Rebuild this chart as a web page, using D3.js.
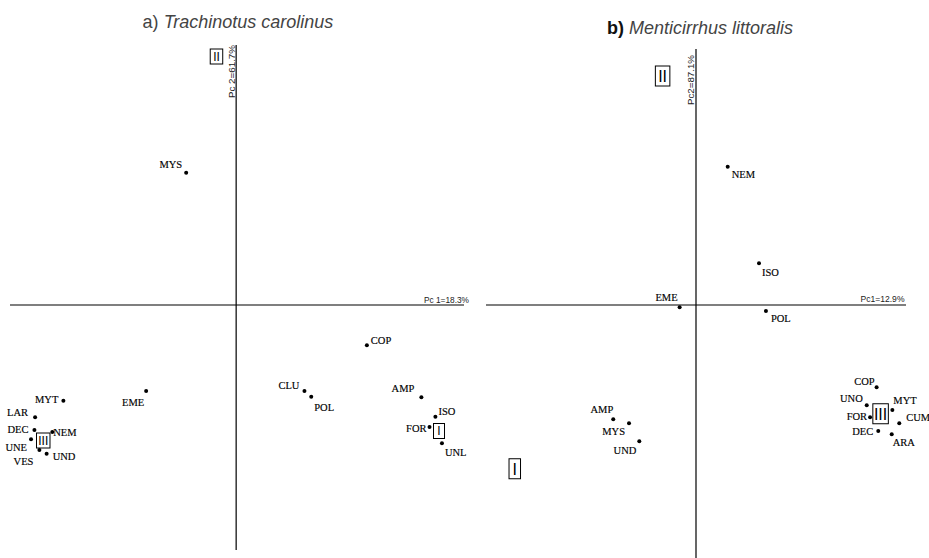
<!DOCTYPE html>
<html>
<head>
<meta charset="utf-8">
<script src="https://cdn.jsdelivr.net/npm/d3@7"></script>
<style>
  body { margin: 0; background: #fff; }
  svg { display: block; }
  text.lbl { font-family: "Liberation Serif", "DejaVu Serif", serif; font-size: 10.5px; fill: #000; stroke: #000; stroke-width: 0.15px; }
  .axlbl { font-family: "Liberation Sans", Arial, sans-serif; font-size: 9px; fill: #222; }
  .grp text { font-family: "Liberation Sans", Arial, sans-serif; fill: #000; }
  .title { font-family: "Liberation Sans", Arial, sans-serif; font-size: 18px; fill: #444; }
</style>
</head>
<body>
<svg id="chart" width="929" height="558"></svg>
<script>
// a) Trachinotus carolinus
const itemsA = ["MYS", "EME", "MYT", "LAR", "DEC", "NEM", "UNE", "VES", "UND",
                "COP", "CLU", "POL", "AMP", "ISO", "FOR", "UNL"];
const pc1A = [-0.221, -0.398, -0.764, -0.889, -0.892, -0.813, -0.907, -0.870, -0.838,
              0.578, 0.302, 0.332, 0.819, 0.881, 0.855, 0.910];
const pc2A = [0.529, -0.344, -0.383, -0.449, -0.500, -0.508, -0.537, -0.580, -0.595,
              -0.161, -0.344, -0.367, -0.369, -0.447, -0.488, -0.553];
const groupsA = ["II", "III", "I"];
const groupPc1A = [-0.087, -0.853, 0.897];
const groupPc2A = [0.994, -0.542, -0.504];

// b) Menticirrhus littoralis
const itemsB = ["NEM", "ISO", "EME", "POL", "AMP", "MYS", "UND",
                "COP", "UNO", "FOR", "MYT", "CUM", "DEC", "ARA"];
const pc1B = [0.151, 0.300, -0.078, 0.333, -0.394, -0.319, -0.270,
              0.860, 0.813, 0.829, 0.935, 0.968, 0.868, 0.932];
const pc2B = [0.553, 0.167, -0.009, -0.024, -0.457, -0.473, -0.545,
              -0.329, -0.401, -0.449, -0.420, -0.473, -0.504, -0.517];
const groupsB = ["II", "I", "III"];
const groupPc1B = [-0.159, -0.863, 0.879];
const groupPc2B = [0.916, -0.655, -0.435];

// label placement: [dx, dy, anchor]
const placeA = {
  MYS: [-4, -5, "end"], EME: [-2, 15, "end"], MYT: [-5, 2, "end"], LAR: [-7, -1, "end"],
  DEC: [-6, 3, "end"], NEM: [1, 4, "start"], UNE: [-4, 12, "end"], VES: [-6, 15, "end"],
  UND: [6, 6, "start"], COP: [4, -1, "start"], CLU: [-5, -2, "end"], POL: [3, 14, "start"],
  AMP: [-7, -5, "end"], ISO: [3, -2, "start"], FOR: [-3, 5, "end"], UNL: [3, 13, "start"]
};
const placeB = {
  NEM: [4, 11, "start"], ISO: [3, 13, "start"], EME: [-2, -6, "end"], POL: [5, 11, "start"],
  AMP: [0, -6, "end"], MYS: [-4, 12, "end"], UND: [-3, 13, "end"], COP: [-2, -2, "end"],
  UNO: [-4, -3, "end"], FOR: [-3, 3, "end"], MYT: [1, -6, "start"], CUM: [7, -2, "start"],
  DEC: [-5, 4, "end"], ARA: [1, 12, "start"]
};

const svg = d3.select("#chart");

function panel(cfg) {
  const x = d3.scaleLinear().domain(cfg.xDomain).range(cfg.xRange);
  const y = d3.scaleLinear().domain(cfg.yDomain).range(cfg.yRange);
  const g = svg.append("g");

  // axes through the origin
  g.append("line")
    .attr("x1", x.range()[0]).attr("x2", x.range()[1])
    .attr("y1", y(0)).attr("y2", y(0))
    .attr("stroke", "#000").attr("stroke-width", 1.2);
  g.append("line")
    .attr("x1", x(0)).attr("x2", x(0))
    .attr("y1", y.range()[0]).attr("y2", y.range()[1])
    .attr("stroke", "#000").attr("stroke-width", 1.2);

  g.append("text").attr("class", "axlbl")
    .attr("x", x.range()[1] + cfg.pc1Off[0]).attr("y", y(0) + cfg.pc1Off[1])
    .attr("text-anchor", "end")
    .attr("textLength", cfg.pc1Len).attr("lengthAdjust", "spacingAndGlyphs")
    .text(cfg.pc1Label);
  g.append("text").attr("class", "axlbl")
    .attr("transform", `translate(${x(0) + cfg.pc2Off[0]},${y.range()[1] + cfg.pc2Off[1]}) rotate(-90)`)
    .attr("text-anchor", "end")
    .attr("textLength", cfg.pc2Len).attr("lengthAdjust", "spacingAndGlyphs")
    .text(cfg.pc2Label);

  const pts = cfg.items.map((name, i) => ({ name, px: cfg.pc1[i], py: cfg.pc2[i] }));
  g.selectAll("circle.pt").data(pts).join("circle").attr("class", "pt")
    .attr("cx", d => x(d.px)).attr("cy", d => y(d.py)).attr("r", 2).attr("fill", "#000");
  g.selectAll("text.lbl").data(pts).join("text").attr("class", "lbl")
    .attr("font-family", "Liberation Serif")
    .attr("x", d => x(d.px) + cfg.place[d.name][0])
    .attr("y", d => y(d.py) + cfg.place[d.name][1])
    .attr("text-anchor", d => cfg.place[d.name][2])
    .text(d => d.name);

  const grps = cfg.groups.map((name, i) => ({ name, px: cfg.gPc1[i], py: cfg.gPc2[i] }));
  const gg = g.selectAll("g.grp").data(grps).join("g").attr("class", "grp")
    .attr("transform", d => `translate(${x(d.px)},${y(d.py)})`);
  gg.append("rect")
    .attr("x", d => -cfg.boxW[d.name.length - 1] / 2).attr("y", -cfg.boxH / 2)
    .attr("width", d => cfg.boxW[d.name.length - 1]).attr("height", cfg.boxH)
    .attr("fill", "#fff").attr("stroke", "#000").attr("stroke-width", 1);
  gg.append("text")
    .attr("text-anchor", "middle").attr("dy", "0.36em")
    .attr("font-size", cfg.boxFont)
    .text(d => d.name);
}

panel({
  items: itemsA, pc1: pc1A, pc2: pc2A, place: placeA,
  groups: groupsA, gPc1: groupPc1A, gPc2: groupPc2A,
  xDomain: [-1, 1.0075], xRange: [10, 464],
  yDomain: [-0.98, 1.04], yRange: [550, 45],
  pc1Label: "Pc 1=18.3%", pc1Off: [5, -2.5], pc1Len: 45,
  pc2Label: "Pc 2=61.7%", pc2Off: [-1.5, 0], pc2Len: 53,
  boxW: [11, 12.5, 13.5], boxH: 15, boxFont: 12
});

panel({
  items: itemsB, pc1: pc1B, pc2: pc2B, place: placeB,
  groups: groupsB, gPc1: groupPc1B, gPc2: groupPc2B,
  xDomain: [-1, 1], xRange: [486, 906],
  yDomain: [-1.012, 1.024], yRange: [558, 49],
  pc1Label: "Pc1=12.9%", pc1Off: [-1.5, -3.5], pc1Len: 44,
  pc2Label: "Pc2=87.1%", pc2Off: [-2, 6], pc2Len: 50,
  boxW: [11.5, 14.5, 15.5], boxH: 20, boxFont: 16
});

// titles
const tA = svg.append("text").attr("class", "title").attr("x", 238).attr("y", 27.5).attr("text-anchor", "middle");
tA.append("tspan").text("a) ");
tA.append("tspan").attr("font-style", "italic").text("Trachinotus carolinus");

const tB = svg.append("text").attr("class", "title").attr("x", 700).attr("y", 34).attr("text-anchor", "middle");
tB.append("tspan").attr("font-weight", "bold").attr("fill", "#111").text("b) ");
tB.append("tspan").attr("font-style", "italic").text("Menticirrhus littoralis");
</script>
</body>
</html>
